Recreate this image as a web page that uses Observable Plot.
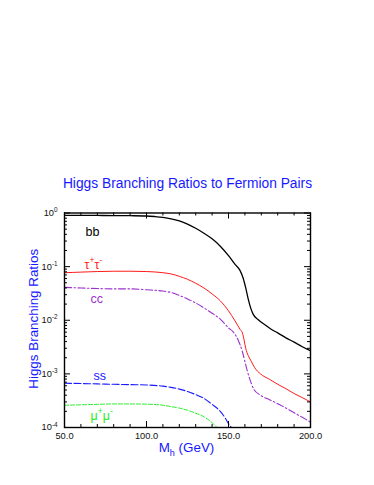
<!DOCTYPE html>
<html>
<head>
<meta charset="utf-8">
<script src="https://cdn.jsdelivr.net/npm/d3@7"></script>
<script src="https://cdn.jsdelivr.net/npm/@observablehq/plot@0.6"></script>
<style>
  html, body { margin: 0; padding: 0; background: #fff; }
</style>
</head>
<body>
<script>
// ---------- data ----------
const title = "Higgs Branching Ratios to Fermion Pairs";
const xLabel = "M_{h} (GeV)";
const yLabel = "Higgs Branching Ratios";

const xTicks = [50, 100, 150, 200];
const xMinorTicks = [60, 70, 80, 90, 110, 120, 130, 140, 160, 170, 180, 190];
const yTicks = [1e-4, 1e-3, 1e-2, 1e-1, 1];

const massBB = [50, 60, 70, 80, 90, 100, 105, 110, 115, 120, 125, 130, 135, 140, 145, 150, 154, 157, 159, 160.5, 162, 163.5, 165, 168, 172, 176, 180, 185, 190, 195, 200];
const brBB   = [0.90, 0.90, 0.90, 0.895, 0.89, 0.88, 0.86, 0.83, 0.78, 0.71, 0.62, 0.52, 0.42, 0.33, 0.24, 0.16, 0.11, 0.085, 0.06, 0.04, 0.025, 0.017, 0.013, 0.0103, 0.0083, 0.0068, 0.0058, 0.0047, 0.0039, 0.0032, 0.0027];

const massTau = [50, 60, 70, 80, 90, 100, 110, 115, 120, 125, 130, 135, 140, 145, 150, 154, 157, 158.5, 159.5, 160.5, 162, 163.5, 166, 169.5, 175, 180, 185, 190, 195, 200];
const brTau   = [0.077, 0.079, 0.081, 0.082, 0.082, 0.081, 0.077, 0.073, 0.066, 0.058, 0.049, 0.040, 0.031, 0.023, 0.015, 0.0097, 0.0068, 0.0058, 0.0043, 0.0030, 0.0022, 0.0018, 0.0013, 0.0010, 0.00079, 0.00064, 0.00053, 0.00043, 0.00036, 0.00030];

const massCC = [50, 60, 70, 80, 90, 100, 110, 115, 120, 125, 130, 135, 140, 145, 150, 153, 156, 158.3, 160, 161.4, 163, 165.4, 169.5, 175, 179.7, 185, 189.8, 195, 200];
const brCC   = [0.041, 0.040, 0.039, 0.0385, 0.0385, 0.037, 0.035, 0.033, 0.029, 0.025, 0.021, 0.017, 0.0135, 0.0105, 0.0072, 0.0060, 0.0042, 0.0027, 0.0017, 0.00115, 0.0008, 0.00052, 0.00040, 0.00033, 0.00028, 0.00023, 0.00019, 0.000155, 0.000126];

const massSS = [50, 60, 70, 80, 90, 100, 110, 115, 120, 125, 130, 135, 140, 145, 148, 150, 151.7];
const brSS   = [0.00067, 0.00066, 0.00065, 0.00064, 0.00063, 0.00062, 0.00059, 0.00056, 0.00052, 0.00047, 0.00041, 0.00035, 0.00027, 0.00020, 0.00015, 0.000118, 0.0001];

const massMu = [50, 60, 70, 80, 90, 100, 110, 115, 120, 125, 130, 135, 138, 141, 143];
const brMu   = [0.00026, 0.000265, 0.00027, 0.000275, 0.000275, 0.000272, 0.00026, 0.000245, 0.00023, 0.00021, 0.000185, 0.000158, 0.000138, 0.000115, 0.0001];

// series label text and their anchor points (data coordinates)
const seriesNames = ["bb", "τ^{+}τ^{-}", "cc", "ss", "μ^{+}μ^{-}"];
const labelMass   = [62.8, 62.2, 65.9, 67.7, 65.9];
const labelBR     = [0.38, 0.092, 0.0214, 0.00078, 0.00014];

// ---------- styles ----------
const BLUE = "#1818ff";
const colors = { bb: "#000000", tau: "#ff1a1a", cc: "#9a32cd", ss: "#1a1aff", mu: "#22ee22" };
const labelColors = [colors.bb, colors.tau, colors.cc, colors.ss, colors.mu];

const W = 374, H = 485, mL = 64, mR = 64, mT = 212.5, mB = 58;
const pw = W - mL - mR, ph = H - mT - mB;

const rows = (ms, vs) => ms.map((m, i) => ({ m, v: vs[i] }));
const yMinorTicks = [];
for (let k = -4; k < 0; k++) for (let j = 2; j <= 9; j++) yMinorTicks.push(j * Math.pow(10, k));

const lineOpts = (stroke, dash, sw) => ({ x: "m", y: "v", stroke, strokeWidth: sw, strokeDasharray: dash, curve: "monotone-x", clip: true });

const chart = Plot.plot({
  width: W, height: H,
  marginLeft: mL, marginRight: mR, marginTop: mT, marginBottom: mB,
  style: { background: "white", fontFamily: "'Liberation Sans', Arial, Helvetica, sans-serif", overflow: "visible" },
  x: { domain: [50, 200] },
  y: { type: "log", domain: [1e-4, 1] },
  marks: [
    Plot.line(rows(massMu, brMu), lineOpts(colors.mu, "4,2", 1)),
    Plot.line(rows(massSS, brSS), lineOpts(colors.ss, "7,2.5", 1.1)),
    Plot.line(rows(massCC, brCC), lineOpts(colors.cc, "7,2.5,1.5,2.5", 1.1)),
    Plot.line(rows(massTau, brTau), lineOpts(colors.tau, null, 1)),
    Plot.line(rows(massBB, brBB), lineOpts(colors.bb, null, 1.3)),
    // inward tick marks on all four sides
    Plot.tickX(xTicks, { x: d => d, insetTop: ph - 6, stroke: "black" }),
    Plot.tickX(xTicks, { x: d => d, insetBottom: ph - 6, stroke: "black" }),
    Plot.tickX(xMinorTicks, { x: d => d, insetTop: ph - 3, stroke: "black" }),
    Plot.tickX(xMinorTicks, { x: d => d, insetBottom: ph - 3, stroke: "black" }),
    Plot.tickY(yTicks, { y: d => d, insetRight: pw - 6, stroke: "black" }),
    Plot.tickY(yTicks, { y: d => d, insetLeft: pw - 6, stroke: "black" }),
    Plot.tickY(yMinorTicks, { y: d => d, insetRight: pw - 3, stroke: "black" }),
    Plot.tickY(yMinorTicks, { y: d => d, insetLeft: pw - 3, stroke: "black" }),
    Plot.frame({ stroke: "black", strokeWidth: 1.4 }),
    Plot.axisX(xTicks, { tickSize: 0, tickPadding: 4.5, tickFormat: d => d.toFixed(1), fontSize: 9.3, label: null, fill: "#111" }),
    Plot.axisY(yTicks, { tickSize: 0, tickPadding: 7, tickFormat: d => `10^{${Math.round(Math.log10(d))}}`, fontSize: 9.3, label: null, fill: "#111" }),
    // series labels
    Plot.text(seriesNames.map((t, i) => ({ t, m: labelMass[i], v: labelBR[i], c: labelColors[i] })), {
      x: "m", y: "v", text: "t", fill: "c", textAnchor: "start", lineAnchor: "bottom", fontSize: 12.5
    }),
    // title and axis titles
    Plot.text([title], { frameAnchor: "top", dy: -(mT - 187), lineAnchor: "bottom", fill: BLUE, fontSize: 13.8 }),
    Plot.text([yLabel], { frameAnchor: "left", dx: -(mL - 37), dy: -1.5, rotate: -90, lineAnchor: "bottom", textAnchor: "middle", fill: BLUE, fontSize: 13.4 }),
    Plot.text([xLabel], { frameAnchor: "bottom", dy: 451.5 - (H - mB), dx: -1, lineAnchor: "bottom", fill: BLUE, fontSize: 13.4 })
  ]
});

document.body.appendChild(chart);

// convert ^{..} and _{..} markup into real super/subscript tspans
const NS = "http://www.w3.org/2000/svg";
function richText(el) {
  const s = el.textContent;
  if (!/[\^_]\{/.test(s)) return;
  const fs = parseFloat(getComputedStyle(el).fontSize) || 10;
  while (el.firstChild) el.removeChild(el.firstChild);
  const re = /([\^_])\{([^}]*)\}/g;
  let last = 0, cur = 0, m;
  const add = (txt, target, small) => {
    if (!txt) return;
    const t = document.createElementNS(NS, "tspan");
    t.textContent = txt;
    const dy = target - cur;
    if (dy) t.setAttribute("dy", dy.toFixed(2));
    cur = target;
    if (small) t.setAttribute("font-size", (fs * 0.68).toFixed(2));
    el.appendChild(t);
  };
  while ((m = re.exec(s))) {
    add(s.slice(last, m.index), 0, false);
    add(m[2], m[1] === "^" ? -0.42 * fs : 0.3 * fs, true);
    last = re.lastIndex;
  }
  add(s.slice(last), 0, false);
}
chart.querySelectorAll("text").forEach(richText);
</script>
</body>
</html>
